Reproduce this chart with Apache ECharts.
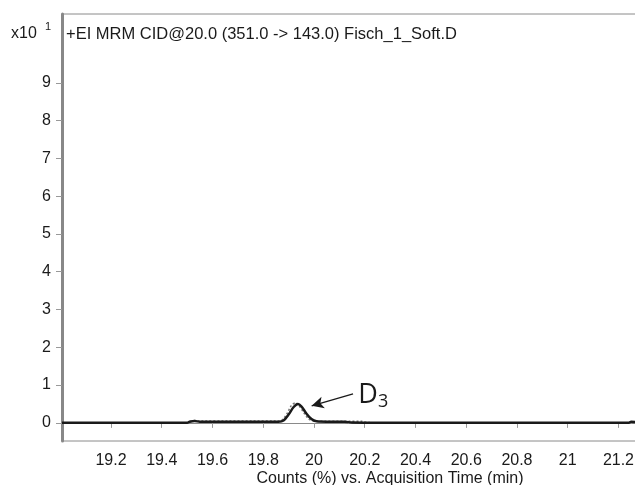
<!DOCTYPE html>
<html>
<head>
<meta charset="utf-8">
<script src="https://cdn.jsdelivr.net/npm/echarts@6/dist/echarts.min.js"></script>
<style>
  html, body { margin: 0; padding: 0; background: #fff; }
  #chart { width: 635px; height: 485px; }
</style>
</head>
<body>
<div id="chart"></div>
<script>
// acquisition time (min)
let timeSolid = [19.007, 19.5, 19.51, 19.53, 19.55, 19.86, 19.88, 19.9, 19.92, 19.937, 19.95, 19.97, 19.99, 20.01, 20.05, 20.12, 20.15, 20.25, 21.24, 21.25, 21.27]
let countSolid = [0, 0, 0.03, 0.05, 0.03, 0.03, 0.06, 0.22, 0.42, 0.5, 0.44, 0.25, 0.1, 0.04, 0.03, 0.03, 0.01, 0, 0, 0.03, 0.02]
let timeDotted = [19.007, 19.5, 19.51, 19.53, 19.55, 19.86, 19.875, 19.895, 19.91, 19.927, 19.94, 19.96, 19.98, 20.0, 20.05, 20.19, 20.21, 20.3, 21.27]
let countDotted = [0, 0, 0.04, 0.06, 0.05, 0.05, 0.08, 0.26, 0.45, 0.53, 0.46, 0.27, 0.1, 0.05, 0.04, 0.04, 0.01, 0, 0]
let xTicks = [19.2, 19.4, 19.6, 19.8, 20, 20.2, 20.4, 20.6, 20.8, 21, 21.2]
let yTicks = [0, 1, 2, 3, 4, 5, 6, 7, 8, 9]
// arrow to the peak: [from, to], and where the label sits
let arrowFrom = [20.154, 0.77]
let arrowTo = [19.991, 0.45]
let labelAt = [20.175, 0.74]

function pairs(xs, ys) {
  return xs.map((x, i) => [x, ys[i]])
}

let font = '"Liberation Sans", Arial, sans-serif'
let charts = echarts.init(document.getElementById('chart'))
charts.setOption({
  animation: false,
  grid: {
    left: 62,
    top: 14,
    right: -4,
    bottom: 44,
    outerBoundsMode: 'none',
    show: true,
    borderColor: '#8a8a8a',
    borderWidth: 1
  },
  graphic: [
    {
      type: 'text',
      x: 11,
      y: 26,
      style: {
        text: 'x10',
        font: '16px ' + font,
        fill: '#1a1a1a'
      }
    },
    {
      type: 'text',
      x: 45,
      y: 21,
      style: {
        text: '1',
        font: '11px ' + font,
        fill: '#1a1a1a'
      }
    },
    {
      type: 'text',
      x: 66,
      y: 26,
      style: {
        text: '+EI MRM CID@20.0 (351.0 -> 143.0) Fisch_1_Soft.D',
        font: '16.5px ' + font,
        fill: '#1a1a1a'
      }
    },
    {
      type: 'text',
      x: 390,
      y: 479,
      style: {
        text: 'Counts (%) vs. Acquisition Time (min)',
        font: '16px ' + font,
        fill: '#1a1a1a',
        align: 'center',
        verticalAlign: 'middle'
      }
    }
  ],
  xAxis: {
    type: 'value',
    min: 19.007,
    max: 21.281,
    axisLine: {
      lineStyle: { color: '#8a8a8a', width: 1 }
    },
    axisTick: {
      customValues: xTicks,
      length: 5,
      lineStyle: { color: '#999' }
    },
    axisLabel: {
      customValues: xTicks,
      color: '#1a1a1a',
      fontSize: 16,
      fontFamily: 'Liberation Sans',
      margin: 12
    },
    splitLine: { show: false }
  },
  yAxis: {
    type: 'value',
    min: -0.48,
    max: 10.82,
    axisLine: {
      show: true,
      lineStyle: { color: '#888', width: 3 }
    },
    axisTick: {
      show: true,
      customValues: yTicks,
      length: 6,
      lineStyle: { color: '#999' }
    },
    axisLabel: {
      customValues: yTicks,
      color: '#1a1a1a',
      fontSize: 16,
      fontFamily: 'Liberation Sans',
      margin: 11
    },
    splitLine: { show: false }
  },
  series: [
    {
      name: 'dotted',
      type: 'line',
      data: pairs(timeDotted, countDotted),
      symbol: 'none',
      smooth: 0.3,
      lineStyle: { color: '#777', width: 1.5, type: [2, 2] }
    },
    {
      name: 'solid',
      type: 'line',
      data: pairs(timeSolid, countSolid),
      symbol: 'none',
      smooth: 0.3,
      lineStyle: { color: '#1a1a1a', width: 2.5 },
      markLine: {
        silent: true,
        symbol: ['none', 'arrow'],
        symbolSize: [9, 12],
        lineStyle: { color: '#1a1a1a', width: 1.3, type: 'solid' },
        label: { show: false },
        data: [
          [
            { coord: arrowFrom },
            { coord: arrowTo }
          ]
        ]
      },
      markPoint: {
        silent: true,
        symbol: 'circle',
        symbolSize: 0,
        label: {
          show: true,
          position: 'right',
          distance: 0,
          formatter: '{d|D}{s|3}',
          rich: {
            d: { fontSize: 27, color: '#1a1a1a', fontFamily: 'Open Sans', fontWeight: 'normal' },
            s: { fontSize: 18, color: '#1a1a1a', fontFamily: 'Open Sans', fontWeight: 'normal', padding: [14, 0, 0, 0] }
          }
        },
        data: [{ coord: labelAt }]
      }
    }
  ]
})
</script>
</body>
</html>
